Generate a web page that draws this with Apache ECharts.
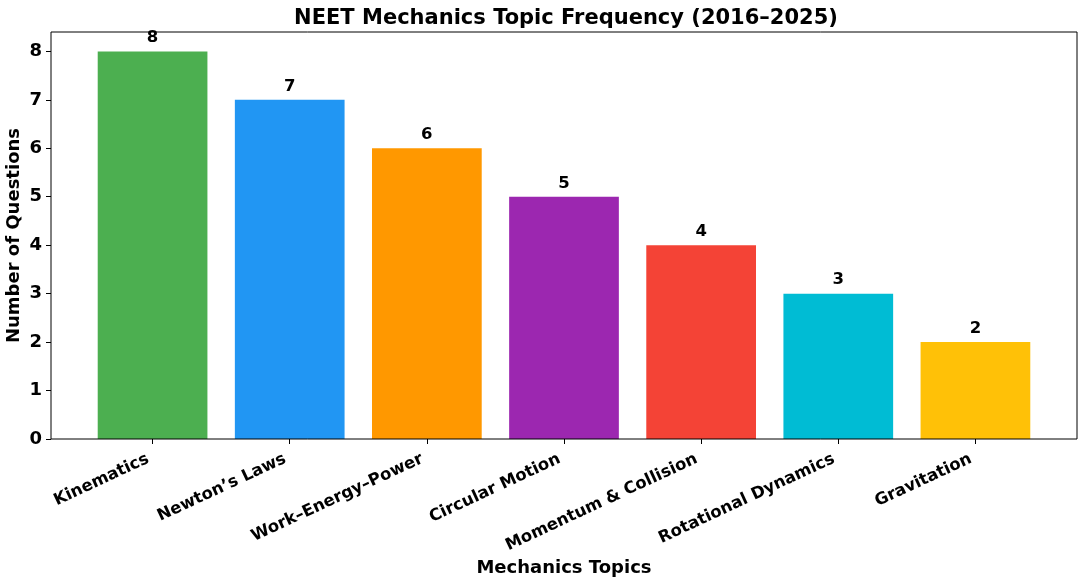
<!DOCTYPE html>
<html>
<head>
<meta charset="utf-8">
<script src="https://cdn.jsdelivr.net/npm/echarts@6/dist/echarts.min.js"></script>
<style>html,body{margin:0;padding:0;background:#fff}#c{width:1081px;height:587px}</style>
</head>
<body>
<div id="c"></div>
<script>
const categories = ["Kinematics", "Newton\u2019s Laws", "Work\u2013Energy\u2013Power", "Circular Motion", "Momentum & Collision", "Rotational Dynamics", "Gravitation"];
const values = [8, 7, 6, 5, 4, 3, 2];
const colors = ["#4CAF50", "#2196F3", "#FF9800", "#9C27B0", "#F44336", "#00BCD4", "#FFC107"];
const yTicks = [0, 1, 2, 3, 4, 5, 6, 7, 8];

const FONT = "DejaVu Sans";
const chart = echarts.init(document.getElementById('c'), null, {renderer: 'canvas'});
chart.setOption({
  animation: false,
  backgroundColor: '#fff',
  title: {
    text: 'NEET Mechanics Topic Frequency (2016\u20132025)',
    left: 561, top: 3, textAlign: 'center',
    textStyle: {fontFamily: FONT, fontWeight: 'bold', fontSize: 21, color: '#000'}
  },
  grid: [
    {left: 51, right: 4, top: 32, bottom: 148, show: true, borderColor: '#000', borderWidth: 1, backgroundColor: 'transparent', z: 10, outerBoundsMode: 'none', containLabel: false},
    {left: 84, right: 37, top: 32, bottom: 148, outerBoundsMode: 'none', containLabel: false}
  ],
  xAxis: [
    {gridIndex: 0, type: 'value', show: false, min: 0, max: 1},
    {
      gridIndex: 1, type: 'category', data: categories,
      axisLine: {show: false},
      axisTick: {show: true, alignWithLabel: true, length: 5, lineStyle: {color: '#000'}},
      axisLabel: {rotate: 25, interval: 0, margin: 17, padding: [0, 5, 0, 0], fontFamily: FONT, fontWeight: 'bold', fontSize: 16.5, color: '#000'},
      name: 'Mechanics Topics', nameLocation: 'middle', nameGap: 120, nameMoveOverlap: false,
      nameTextStyle: {fontFamily: FONT, fontWeight: 'bold', fontSize: 18, color: '#000'}
    }
  ],
  yAxis: [
    {gridIndex: 0, type: 'value', show: false, min: 0, max: 1},
    {
      gridIndex: 1, type: 'value', min: 0, max: 8.4, interval: 1, offset: 33,
      axisLine: {show: false},
      axisTick: {show: true, length: 5, customValues: yTicks, lineStyle: {color: '#000'}},
      splitLine: {show: false},
      axisLabel: {fontFamily: FONT, fontWeight: 'bold', fontSize: 18, color: '#000', margin: 9, customValues: yTicks},
      name: 'Number of Questions', nameLocation: 'middle', nameGap: 28, nameMoveOverlap: false,
      nameTextStyle: {fontFamily: FONT, fontWeight: 'bold', fontSize: 18, color: '#000'}
    }
  ],
  series: [{
    type: 'bar', xAxisIndex: 1, yAxisIndex: 1,
    barWidth: '80%',
    data: values.map((v, i) => ({value: v, itemStyle: {color: colors[i]}})),
    label: {show: true, position: 'top', distance: 5, fontFamily: FONT, fontWeight: 'bold', fontSize: 16.5, color: '#000'}
  }]
});
</script>
</body>
</html>
